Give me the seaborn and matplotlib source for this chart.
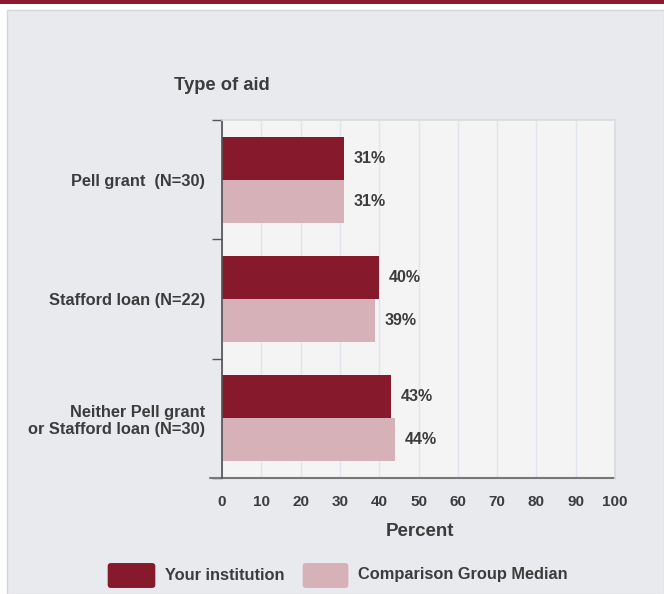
import matplotlib.pyplot as plt
import seaborn as sns
import pandas as pd
from matplotlib.patches import Rectangle, FancyBboxPatch
from matplotlib.lines import Line2D

categories = ["Pell grant  (N=30)", "Stafford loan (N=22)",
              "Neither Pell grant\nor Stafford loan (N=30)"]
series = ["Your institution", "Comparison Group Median"]
institution = [31, 40, 43]
comparison = [31, 39, 44]
x_ticks = [0, 10, 20, 30, 40, 50, 60, 70, 80, 90, 100]

dark = "#861a2c"
light = "#d7b1b8"
text_color = "#3c3c3c"

df = pd.DataFrame({
    "category": categories * 2,
    "series": [series[0]] * 3 + [series[1]] * 3,
    "value": institution + comparison,
})

sns.set_theme(style="white")
plt.rcParams["font.family"] = ["Liberation Sans", "DejaVu Sans"]
plt.rcParams["font.weight"] = "bold"

fig = plt.figure(figsize=(6.64, 5.94), dpi=100, facecolor="white")

# panel background and top band
fig.patches.append(Rectangle((7 / 664, 0), 1 - 7 / 664, 1 - 10 / 594,
                             transform=fig.transFigure, facecolor="#e9eaee",
                             edgecolor="#d6d6d6", lw=1, zorder=-2))
fig.patches.append(Rectangle((0, 1 - 4 / 594), 1, 4 / 594,
                             transform=fig.transFigure, facecolor="#8b1a2e",
                             edgecolor="none", zorder=-2))

ax = fig.add_axes([222 / 664, 1 - 478 / 594, 393 / 664, 358 / 594])
ax.set_facecolor("#f4f4f4")

sns.barplot(data=df, y="category", x="value", hue="series", order=categories,
            hue_order=series, palette=[dark, light], orient="h", width=0.72,
            gap=0, ax=ax, legend=False, saturation=1, linewidth=0)

for cont in ax.containers:
    ax.bar_label(cont, labels=[f"{v:.0f}%" for v in cont.datavalues],
                 padding=7, fontsize=11.5, color=text_color, fontweight="bold")

ax.set_xlim(0, 100)
ax.set_ylim(2.5, -0.5)
ax.set_xticks(x_ticks)
ax.set_xticklabels([str(t) for t in x_ticks], fontsize=11, color=text_color)
ax.tick_params(axis="x", length=0, pad=12)

ax.set_yticks([-0.5, 0.5, 1.5, 2.5])
ax.set_yticklabels([])
ax.tick_params(axis="y", which="major", length=7, width=1, color="#555555",
               direction="out", left=True)
ax.set_yticks([0, 1, 2], minor=True)
ax.set_yticklabels(categories, minor=True, fontsize=11.8, color=text_color)
for lab in ax.get_yticklabels(minor=True):
    lab.set_linespacing(1.15)
ax.tick_params(axis="y", which="minor", length=0, pad=12)

ax.grid(axis="x", color="#dfe4ee", lw=1)
ax.set_axisbelow(True)

for side in ["top", "right"]:
    ax.spines[side].set_color("#dcdcdc")
ax.spines["left"].set_color("#555555")
ax.spines["bottom"].set_visible(False)
ax.add_line(Line2D([-0.03, 1.0], [0, 0], transform=ax.transAxes, color="#777777",
                   lw=1.5, clip_on=False))

ax.set_xlabel("")
ax.set_ylabel("")

fig.text(222 / 664, 1 - 85 / 594, "Type of aid", ha="center", va="center",
         fontsize=13.2, color=text_color, fontweight="bold")
fig.text(420 / 664, 1 - 532 / 594, "Percent", ha="center", va="center",
         fontsize=13.5, color=text_color, fontweight="bold")

# legend
for x0, x1, color, label in [(108, 155, dark, series[0]), (303, 348, light, series[1])]:
    fig.patches.append(FancyBboxPatch(((x0 + 3) / 664, 1 - 585 / 594),
                                      (x1 - x0 - 6) / 664, 19 / 594,
                                      boxstyle="round,pad=0.005", transform=fig.transFigure,
                                      facecolor=color, edgecolor="none"))
    fig.text((x1 + 10) / 664, 1 - 575 / 594, label, ha="left", va="center",
             fontsize=11.8, color=text_color, fontweight="bold")

fig.savefig("out.png", dpi=100, facecolor="white")
